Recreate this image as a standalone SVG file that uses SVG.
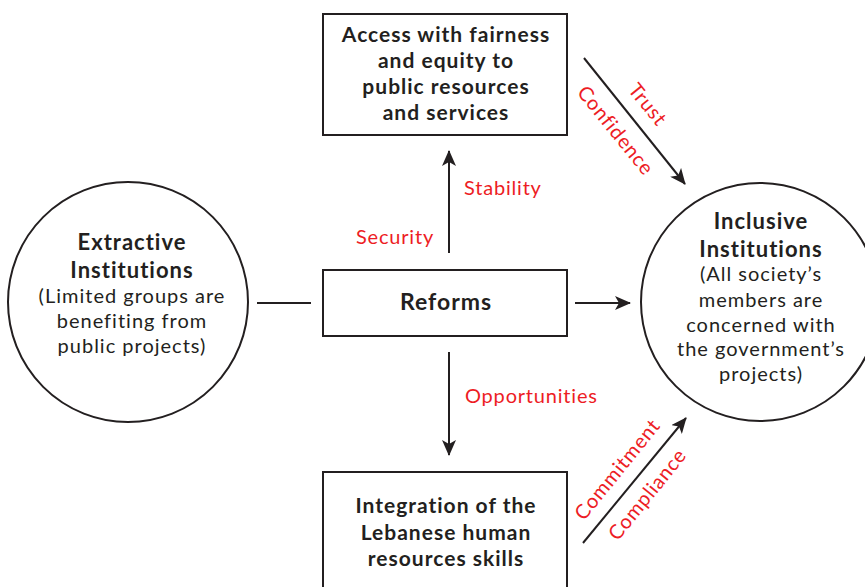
<svg xmlns="http://www.w3.org/2000/svg" width="865" height="587" viewBox="0 0 865 587">
<defs>
<style>
.box{fill:#fff;stroke:#231f20;stroke-width:2}
.t{font-family:"Lato","Liberation Sans",sans-serif;fill:#231f20;text-anchor:middle}
.b{font-weight:bold;font-size:21px;letter-spacing:1px}
.r{font-size:20px;letter-spacing:1px}
.lbl{font-family:"Lato","Liberation Sans",sans-serif;fill:#ed1c24;font-size:20px;letter-spacing:0.8px}
.c{stroke:#231f20;stroke-width:2;fill:none}
</style>
<marker id="ah" viewBox="0 0 16 14" refX="15" refY="7" markerWidth="16" markerHeight="14" markerUnits="userSpaceOnUse" orient="auto">
<path d="M0,0 L16,7 L0,14 L4,7 z" fill="#231f20"/>
</marker>
</defs>
<rect width="865" height="587" fill="#fff"/>
<g id="connectors">
<line class="c" x1="257" y1="303" x2="311" y2="303"/>
<line class="c" x1="575" y1="303" x2="630" y2="303" marker-end="url(#ah)"/>
<line class="c" x1="449" y1="253" x2="449" y2="151" marker-end="url(#ah)"/>
<line class="c" x1="449" y1="352" x2="449" y2="455" marker-end="url(#ah)"/>
<line class="c" x1="584" y1="58" x2="685" y2="184" marker-end="url(#ah)"/>
<line class="c" x1="583" y1="543" x2="686" y2="418" marker-end="url(#ah)"/>
</g>
<g id="labels">
<text class="lbl" x="464" y="195">Stability</text>
<text class="lbl" x="356" y="244">Security</text>
<text class="lbl" x="465" y="403">Opportunities</text>
<text class="lbl" text-anchor="middle" transform="translate(647,105) rotate(51)" y="6">Trust</text>
<text class="lbl" text-anchor="middle" transform="translate(615,131) rotate(51)" y="6">Confidence</text>
<text class="lbl" text-anchor="middle" transform="translate(618,470) rotate(-51)" y="6">Commitment</text>
<text class="lbl" text-anchor="middle" transform="translate(648,495) rotate(-51)" y="6">Compliance</text>
</g>
<g id="access">
<rect class="box" x="323" y="14" width="244" height="121"/>
<text class="t b" x="446" y="42">Access with fairness</text>
<text class="t b" x="446" y="68">and equity to</text>
<text class="t b" x="446" y="94">public resources</text>
<text class="t b" x="446" y="120">and services</text>
</g>
<g id="reforms">
<rect class="box" x="323" y="270" width="244" height="66"/>
<text class="t" x="446" y="310" font-weight="bold" font-size="23" letter-spacing="1">Reforms</text>
</g>
<g id="integration">
<rect class="box" x="323" y="472" width="244" height="130"/>
<text class="t b" x="446" y="513">Integration of the</text>
<text class="t b" x="446" y="540">Lebanese human</text>
<text class="t b" x="446" y="566">resources skills</text>
</g>
<g id="extractive">
<circle class="box" cx="128" cy="302" r="120"/>
<text class="t" x="132" y="250" font-weight="bold" font-size="22" letter-spacing="1">Extractive</text>
<text class="t" x="132" y="278" font-weight="bold" font-size="22" letter-spacing="1">Institutions</text>
<text class="t r" x="132" y="303">(Limited groups are</text>
<text class="t r" x="132" y="328">benefiting from</text>
<text class="t r" x="132" y="353">public projects)</text>
</g>
<g id="inclusive">
<circle class="box" cx="760" cy="302" r="119"/>
<text class="t" x="761" y="229" font-weight="bold" font-size="22" letter-spacing="1">Inclusive</text>
<text class="t" x="761" y="257" font-weight="bold" font-size="22" letter-spacing="1">Institutions</text>
<text class="t r" x="761" y="281">(All society’s</text>
<text class="t r" x="761" y="307">members are</text>
<text class="t r" x="761" y="332">concerned with</text>
<text class="t r" x="761" y="356">the government’s</text>
<text class="t r" x="761" y="381">projects)</text>
</g>
</svg>
